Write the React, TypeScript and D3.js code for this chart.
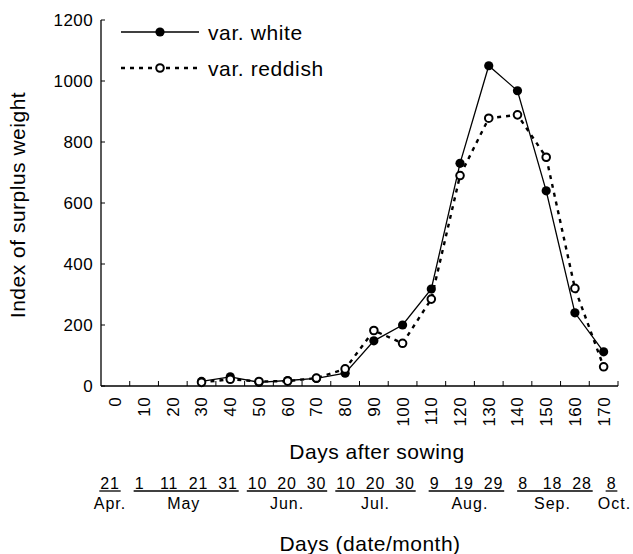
import React from "react";
import * as d3 from "d3";

const days = [30, 40, 50, 60, 70, 80, 90, 100, 110, 120, 130, 140, 150, 160, 170];
const whiteValues = [15, 30, 12, 18, 25, 42, 148, 200, 318, 730, 1050, 968, 640, 240, 112];
const reddishValues = [12, 22, 15, 16, 26, 56, 182, 140, 285, 690, 878, 889, 750, 320, 63];

const xTickDays = [0, 10, 20, 30, 40, 50, 60, 70, 80, 90, 100, 110, 120, 130, 140, 150, 160, 170];
const yTicks = [0, 200, 400, 600, 800, 1000, 1200];

const dateLabels = ["21", "1", "11", "21", "31", "10", "20", "30", "10", "20", "30", "9", "19", "29", "8", "18", "28", "8"];
const dateDays = [0, 10, 20, 30, 40, 50, 60, 70, 80, 90, 100, 110, 120, 130, 140, 150, 160, 170];
const monthLabels = ["Apr.", "May", "Jun.", "Jul.", "Aug.", "Sep.", "Oct."];
const monthDays = [0, 25, 60, 90, 122, 150, 171];
const monthGroupStart = [0, 1, 5, 8, 11, 14, 17];
const monthGroupEnd = [0, 4, 7, 10, 13, 16, 17];

const FONT = "'Liberation Sans', Arial, Helvetica, sans-serif";

export default function App() {
  const W = 633, H = 554;
  const x = d3.scaleLinear().domain([-5, 175]).range([101, 618]);
  const y = d3.scaleLinear().domain([0, 1200]).range([386, 20]);
  const xd = d3.scaleLinear().domain([0, 170]).range([110, 611.5]);

  const line = d3.line<number>().x((_, i) => x(days[i])).y((v) => y(v));

  const boundaryTicks = d3.range(5, 180, 10);
  const dateFont = 16;
  const dateLS = 0.8;
  const digitW = dateFont * 0.556 + dateLS;
  const dateBase = 489;

  return (
    <svg width={W} height={H} style={{ position: "absolute", left: 0, top: 0, background: "#fff" }} fontFamily={FONT}>
      {/* axes */}
      <line x1={x(-5)} x2={x(-5)} y1={y(1200)} y2={y(0)} stroke="#000" strokeWidth={1.3} />
      <line x1={x(-5)} x2={x(175)} y1={y(0)} y2={y(0)} stroke="#000" strokeWidth={1.3} />
      {yTicks.map((t) => (
        <g key={"yt" + t}>
          <line x1={x(-5)} x2={x(-5) + 4} y1={y(t)} y2={y(t)} stroke="#000" strokeWidth={1} />
          <text x={93} y={y(t)} dy="0.36em" textAnchor="end" fontSize={17} letterSpacing={0.4}>{t}</text>
        </g>
      ))}
      {boundaryTicks.map((t) => (
        <line key={"xt" + t} x1={x(t)} x2={x(t)} y1={y(0)} y2={y(0) - 5} stroke="#000" strokeWidth={1} />
      ))}
      {xTickDays.map((t) => (
        <text key={"xl" + t} transform={`translate(${x(t)},397) rotate(-90)`} dy="0.35em" textAnchor="end" fontSize={17} letterSpacing={0.4}>{t}</text>
      ))}

      {/* series */}
      <path d={line(whiteValues) || ""} fill="none" stroke="#000" strokeWidth={1.3} />
      <path d={line(reddishValues) || ""} fill="none" stroke="#000" strokeWidth={2.4} strokeDasharray="4,5" />
      {whiteValues.map((v, i) => (
        <circle key={"w" + i} cx={x(days[i])} cy={y(v)} r={4.6} fill="#000" />
      ))}
      {reddishValues.map((v, i) => (
        <circle key={"r" + i} cx={x(days[i])} cy={y(v)} r={3.8} fill="#fff" stroke="#000" strokeWidth={2} />
      ))}

      {/* legend */}
      <line x1={121} x2={199} y1={32} y2={32} stroke="#000" strokeWidth={1.3} />
      <circle cx={160} cy={32} r={4.6} fill="#000" />
      <text x={208} y={32} dy="0.36em" fontSize={21} letterSpacing={0.6}>var. white</text>
      <line x1={121} x2={199} y1={68} y2={68} stroke="#000" strokeWidth={2.4} strokeDasharray="4,5" />
      <circle cx={160} cy={68} r={3.8} fill="#fff" stroke="#000" strokeWidth={2} />
      <text x={208} y={68} dy="0.36em" fontSize={21} letterSpacing={0.6}>var. reddish</text>

      {/* axis titles */}
      <text transform={`translate(25,205) rotate(-90)`} textAnchor="middle" fontSize={21} letterSpacing={0.5}>Index of surplus weight</text>
      <text x={377} y={459} textAnchor="middle" fontSize={21} letterSpacing={0.5}>Days after sowing</text>

      {/* date rows */}
      {dateLabels.map((l, i) => (
        <text key={"d" + i} x={xd(dateDays[i])} y={dateBase} textAnchor="middle" fontSize={dateFont} letterSpacing={dateLS}>{l}</text>
      ))}
      {monthLabels.map((m, i) => {
        const s = monthGroupStart[i], e = monthGroupEnd[i];
        const x1 = xd(dateDays[s]) - (dateLabels[s].length * digitW) / 2 - 1;
        const x2 = xd(dateDays[e]) + (dateLabels[e].length * digitW) / 2 + 1;
        return (
          <g key={"m" + i}>
            <line x1={x1} x2={x2} y1={dateBase + 2} y2={dateBase + 2} stroke="#000" strokeWidth={1.3} />
            <text x={xd(monthDays[i])} y={509} textAnchor="middle" fontSize={16} letterSpacing={1}>{m}</text>
          </g>
        );
      })}
      <text x={370} y={551} textAnchor="middle" fontSize={21} letterSpacing={0.5}>Days (date/month)</text>
    </svg>
  );
}
